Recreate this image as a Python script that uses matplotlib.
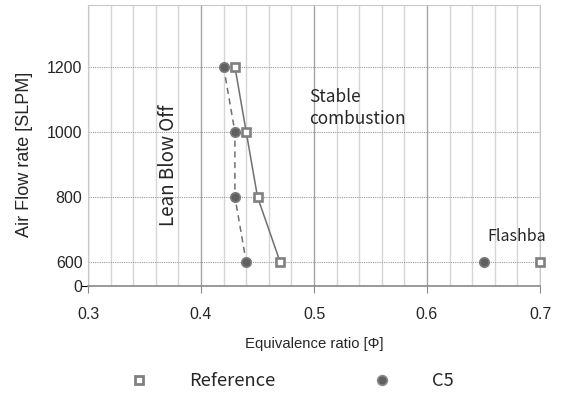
import numpy as np
import matplotlib.pyplot as plt
from matplotlib.lines import Line2D
from matplotlib.ticker import MultipleLocator

# ── DATA ─────────────────────────────────────────────────────────────────────
ref_phi  = [0.43, 0.44, 0.45, 0.47]
ref_flow = [1200, 1000, 800, 600]
ref_fb_phi  = [0.70]
ref_fb_flow = [600]

c5_phi  = [0.42, 0.43, 0.43, 0.44]
c5_flow = [1200, 1000, 800, 600]
c5_fb_phi  = [0.65]
c5_fb_flow = [600]

y_ticks  = [526, 600, 800, 1000, 1200]
y_labels = ["0", "600", "800", "1000", "1200"]
x_ticks  = [0.3, 0.4, 0.5, 0.6, 0.7]

# ── STYLE ────────────────────────────────────────────────────────────────────
FONT = ["Liberation Sans", "DejaVu Sans"]
KFONT = ["Noto Sans CJK KR", "DejaVu Sans"]
c_text = "#262626"
c_line = "#707070"
c_sq   = "#808080"
c_dot  = "#606060"
sq_kw  = dict(marker="s", ms=5.5, mfc="white", mec=c_sq, mew=1.9)
dot_kw = dict(marker="o", ms=6.8, mfc=c_dot, mec="#7c7c7c", mew=1.2)

fig = plt.figure(figsize=(5.61, 3.95), dpi=100)
ax = fig.add_axes([88 / 561, 1 - 286 / 395, 452 / 561, 281 / 395])

ax.set_xlim(0.3, 0.7)
ax.set_ylim(526, 1390)

# grid
ax.xaxis.set_minor_locator(MultipleLocator(0.02))
ax.grid(which="minor", axis="x", color="#d6d6d6", lw=1.0)
ax.grid(which="major", axis="x", color="#a4a4a4", lw=1.0)
for yv in y_ticks[1:]:
    ax.axhline(yv, color="#9a9a9a", lw=0.8, ls=(0, (1, 1)), zorder=1)
ax.set_axisbelow(True)

# series
ax.plot(ref_phi, ref_flow, color=c_line, lw=1.1, zorder=4, **sq_kw)
ax.plot(ref_fb_phi, ref_fb_flow, ls="none", zorder=4, clip_on=False, **sq_kw)
ax.plot(c5_phi, c5_flow, color=c_line, lw=1.1, ls=(0, (4, 3)), zorder=3, **dot_kw)
ax.plot(c5_fb_phi, c5_fb_flow, ls="none", zorder=3, **dot_kw)

# ticks
ax.set_xticks(x_ticks)
ax.set_xticklabels([f"{v:.1f}" for v in x_ticks], family=FONT, fontsize=11.5,
                   color=c_text)
ax.set_yticks(y_ticks)
ax.set_yticklabels(y_labels, family=FONT, fontsize=11.5, color=c_text)
ax.tick_params(axis="x", which="major", length=5, color="#888888", pad=10)
ax.tick_params(axis="x", which="minor", length=0)
ax.tick_params(axis="y", length=0, pad=4)
ax.yaxis.get_major_ticks()[0].tick1line.set_markersize(5)
ax.yaxis.get_major_ticks()[0].tick1line.set_color("#888888")

for s in ["top", "left", "right"]:
    ax.spines[s].set_color("#c8c8c8")
ax.spines["bottom"].set_color("#888888")
ax.spines["bottom"].set_linewidth(1.2)

ax.set_xlabel("Equivalence ratio [Φ]", family=FONT, fontsize=10.7, labelpad=11,
              color=c_text)
ax.set_ylabel("Air Flow rate [SLPM]", family=FONT, fontsize=13, color=c_text)
ax.yaxis.set_label_coords(-0.122, 0.47)

# annotations
ax.text(0.3715, 898, "Lean Blow Off", rotation=90, ha="center", va="center",
        family=KFONT, fontsize=13.5, color=c_text)
ax.text(0.4955, 1073, "Stable\ncombustion", ha="left", va="center",
        family=KFONT, fontsize=12.4, linespacing=1.3, color=c_text)
ax.text(0.653, 678, "Flashba", ha="left", va="center",
        family=KFONT, fontsize=11.5, color=c_text)

# legend
handles = [
    Line2D([], [], ls="none", marker="s", ms=5.5, mfc="white", mec=c_sq, mew=2.0),
    Line2D([], [], ls="none", marker="o", ms=7, mfc=c_dot, mec="#8a8a8a", mew=1.2),
]
fig.legend(handles, ["Reference", "C5"], loc="center left", ncol=2,
           bbox_to_anchor=(121 / 561, 1 - 381 / 395), frameon=False,
           prop={"family": KFONT, "size": 13.2}, handletextpad=1.7,
           columnspacing=4.85, borderpad=0, borderaxespad=0, labelcolor=c_text)

fig.savefig("out.png", dpi=100)
